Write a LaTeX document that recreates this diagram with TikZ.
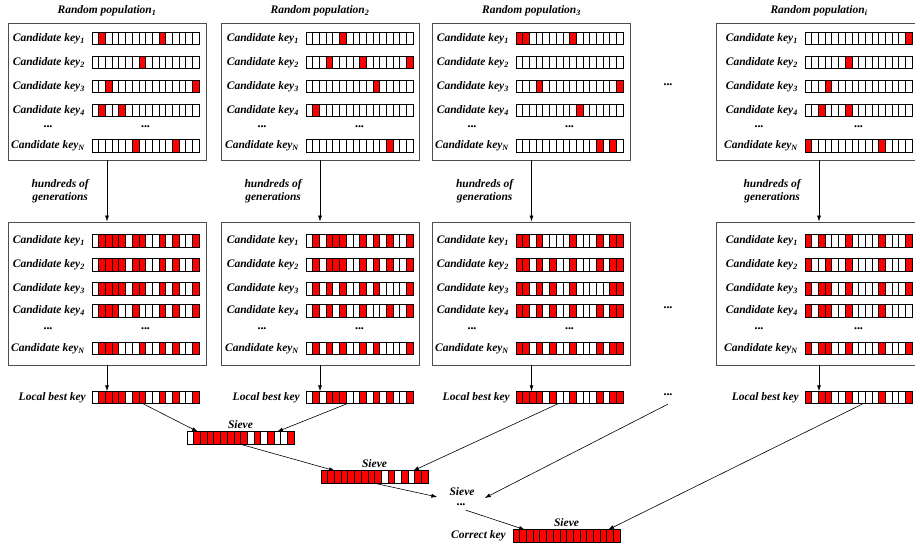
\documentclass[tikz,border=0pt]{standalone}
\usepackage{fontspec}
\setmainfont{Liberation Serif}
\usetikzlibrary{arrows.meta,positioning}
\definecolor{keyred}{HTML}{FF0000}
\definecolor{frame}{HTML}{4D4D4D}
\tikzset{bits/.style={draw=black,line width=.7pt,minimum width=107pt,minimum height=12.5pt,inner sep=0pt,outer sep=0pt,
  path picture={
    \foreach \bit in {#1}
      \fill[keyred] ([xshift={(\bit-1)*107pt/16}]path picture bounding box.south west) rectangle ++(107pt/16,12.5pt);
    \foreach \bit in {1,...,15}
      \draw[line width=.6pt] ([xshift={\bit*107pt/16}]path picture bounding box.south west) -- ++(0,12.5pt);}}}
% one row: name, x, y, index, red cells
\newcommand\keyrow[5]{%
  \node[bits={#5},anchor=west] (#1) at (#2,#3) {};
  \node[lbl,left=7pt of #1] (#1-l) {Candidate key\textsubscript{#4}};}

\begin{document}
\begin{tikzpicture}[x=1pt,y=-1pt,
  txt/.style={font=\fontsize{11.5}{13.5}\selectfont\bfseries\itshape,inner sep=0pt},
  lbl/.style={txt},
  more/.style={font=\fontsize{8.5}{9}\selectfont,inner sep=0pt},
  pop/.style={draw=frame,line width=.8pt,minimum width=198pt,inner sep=0pt},
  arr/.style={-{Latex[length=6pt,width=4pt]},line width=.6pt}]
\useasboundingbox (0,0) rectangle (915,548);

% population 1
\node[pop,minimum height=137pt] (t1) at (107,91.5) {};
\node[txt,above=6pt of t1] (t1-t) {Random population\textsubscript{1}};
\keyrow{t1k1}{92}{38.5}{1}{2,11}
\keyrow{t1k2}{92}{62.5}{2}{8}
\keyrow{t1k3}{92}{86.5}{3}{3,16}
\keyrow{t1k4}{92}{110.5}{4}{2,5}
\keyrow{t1kN}{92}{146}{N}{7,13}
\node[more] (t1d1) at (48,128) {•••};
\node[more] (t1d2) at (145.5,128) {•••};
\node[pop,minimum height=143pt] (b1) at (107,293.5) {};
\keyrow{b1k1}{92}{241}{1}{2,3,4,5,7,8,11,13,16}
\keyrow{b1k2}{92}{265}{2}{2,3,4,5,7,8,11,13,16}
\keyrow{b1k3}{92}{289}{3}{2,3,4,5,7,8,11,13,16}
\keyrow{b1k4}{92}{311}{4}{2,3,4,7,11,13,16}
\keyrow{b1kN}{92}{348.5}{N}{2,3,4,8,11,13,16}
\node[more] (b1d1) at (48,330) {•••};
\node[more] (b1d2) at (145.5,330) {•••};
\node[bits={2,3,4,5,7,8,11,13,16},anchor=west] (lb1) at (92,397.5) {};
\node[lbl,left=6pt of lb1] (lb1-l) {Local best key};
\draw[arr] (t1) -- node[txt,align=center,left=18pt] (g1) {hundreds of\\generations} (b1);
\draw[arr] (b1) -- (b1 |- lb1.north);

% population 2
\node[pop,minimum height=137pt] (t2) at (320,91.5) {};
\node[txt,above=6pt of t2] (t2-t) {Random population\textsubscript{2}};
\keyrow{t2k1}{306}{38.5}{1}{6}
\keyrow{t2k2}{306}{62.5}{2}{4,9,16}
\keyrow{t2k3}{306}{86.5}{3}{11}
\keyrow{t2k4}{306}{110.5}{4}{2}
\keyrow{t2kN}{306}{146}{N}{13}
\node[more] (t2d1) at (262,128) {•••};
\node[more] (t2d2) at (359.5,128) {•••};
\node[pop,minimum height=143pt] (b2) at (320,293.5) {};
\keyrow{b2k1}{306}{241}{1}{2,4,5,6,9,11,13,16}
\keyrow{b2k2}{306}{265}{2}{2,4,5,6,9,11,13,16}
\keyrow{b2k3}{306}{289}{3}{2,4,6,9,11,16}
\keyrow{b2k4}{306}{311}{4}{2,4,6,9,13,16}
\keyrow{b2kN}{306}{348.5}{N}{2,4,6,9,11,16}
\node[more] (b2d1) at (262,330) {•••};
\node[more] (b2d2) at (359.5,330) {•••};
\node[bits={2,4,5,6,9,11,13,16},anchor=west] (lb2) at (306,397.5) {};
\node[lbl,left=6pt of lb2] (lb2-l) {Local best key};
\draw[arr] (t2) -- node[txt,align=center,left=18pt] (g2) {hundreds of\\generations} (b2);
\draw[arr] (b2) -- (b2 |- lb2.north);

% population 3
\node[pop,minimum height=137pt] (t3) at (531.5,91.5) {};
\node[txt,above=6pt of t3] (t3-t) {Random population\textsubscript{3}};
\keyrow{t3k1}{516}{38.5}{1}{1,2,9}
\keyrow{t3k2}{516}{62.5}{2}{0}
\keyrow{t3k3}{516}{86.5}{3}{4,16}
\keyrow{t3k4}{516}{110.5}{4}{10}
\keyrow{t3kN}{516}{146}{N}{13,15}
\node[more] (t3d1) at (472,128) {•••};
\node[more] (t3d2) at (569.5,128) {•••};
\node[pop,minimum height=143pt] (b3) at (531.5,293.5) {};
\keyrow{b3k1}{516}{241}{1}{1,2,4,9,13,15,16}
\keyrow{b3k2}{516}{265}{2}{1,2,4,6,9,13,15,16}
\keyrow{b3k3}{516}{289}{3}{1,2,4,6,9,15,16}
\keyrow{b3k4}{516}{311}{4}{1,2,4,6,9,13,15,16}
\keyrow{b3kN}{516}{348.5}{N}{1,2,4,6,9,13,15,16}
\node[more] (b3d1) at (472,330) {•••};
\node[more] (b3d2) at (569.5,330) {•••};
\node[bits={1,2,3,4,6,9,13,15,16},anchor=west] (lb3) at (516,397.5) {};
\node[lbl,left=6pt of lb3] (lb3-l) {Local best key};
\draw[arr] (t3) -- node[txt,align=center,left=18pt] (g3) {hundreds of\\generations} (b3);
\draw[arr] (b3) -- (b3 |- lb3.north);

% more populations
\node[more] (cd1) at (668,86) {•••};
\node[more] (cd2) at (668,309) {•••};
\node[more] (cd3) at (668,396) {•••};

% population i
\node[pop,minimum width=206pt,minimum height=137pt] (t4) at (819,91.5) {};
\node[txt,above=6pt of t4] (t4-t) {Random population\textsubscript{i}};
\keyrow{t4k1}{805}{38.5}{1}{16}
\keyrow{t4k2}{805}{62.5}{2}{7}
\keyrow{t4k3}{805}{86.5}{3}{4}
\keyrow{t4k4}{805}{110.5}{4}{3,7}
\keyrow{t4kN}{805}{146}{N}{1,12}
\node[more] (t4d1) at (759,128) {•••};
\node[more] (t4d2) at (858.5,128) {•••};
\node[pop,minimum width=206pt,minimum height=143pt] (b4) at (819,293.5) {};
\keyrow{b4k1}{805}{241}{1}{1,3,7,12,16}
\keyrow{b4k2}{805}{265}{2}{1,4,7,12,16}
\keyrow{b4k3}{805}{289}{3}{1,3,4,7,12,16}
\keyrow{b4k4}{805}{311}{4}{1,3,4,7,12}
\keyrow{b4kN}{805}{348.5}{N}{1,3,4,7,12,16}
\node[more] (b4d1) at (759,330) {•••};
\node[more] (b4d2) at (858.5,330) {•••};
\node[bits={1,3,4,7,12,16},anchor=west] (lb4) at (805,397.5) {};
\node[lbl,left=6pt of lb4] (lb4-l) {Local best key};
\draw[arr] (t4) -- node[txt,align=center,left=18pt] (g4) {hundreds of\\generations} (b4);
\draw[arr] (b4) -- (b4 |- lb4.north);

% sieving
\node[bits={2,...,9,11,13,16},anchor=west] (sv1) at (187,438) {};
\node[txt,above=3pt of sv1] (sv1-t) {Sieve};
\node[bits={1,...,9,11,13,15,16},anchor=west] (sv2) at (321,477) {};
\node[txt,above=3pt of sv2] (sv2-t) {Sieve};
\node[txt] (sv3-t) at (462,492) {Sieve};
\node[more] (sv3-d) at (461,506) {•••};
\node[bits={1,...,16},anchor=west] (key) at (513,536) {};
\node[txt,above=3pt of key] (key-t) {Sieve};
\node[lbl,left=7pt of key] (key-l) {Correct key};

\draw[arr] ([xshift=51pt]lb1.south west) -- ([xshift=11pt]sv1.north west);
\draw[arr] ([xshift=41pt]lb2.south west) -- ([xshift=90pt]sv1.north west);
\draw[arr] (sv1.south) -- ([xshift=14pt]sv2.north west);
\draw[arr] ([xshift=42pt]lb3.south west) -- ([xshift=92pt]sv2.north west);
\draw[arr] (sv2.south) -- ([shift={(-12pt,-5pt)}]sv3-t.west);
\draw[arr] ([yshift=-6pt]cd3.south) -- ([shift={(10pt,-6pt)}]sv3-t.east);
\draw[arr] ([yshift=-2pt]sv3-d.south east) -- ([xshift=12pt]key.north west);
\draw[arr] ([xshift=58pt]lb4.south west) -- ([xshift=95pt]key.north west);
\end{tikzpicture}
\end{document}
